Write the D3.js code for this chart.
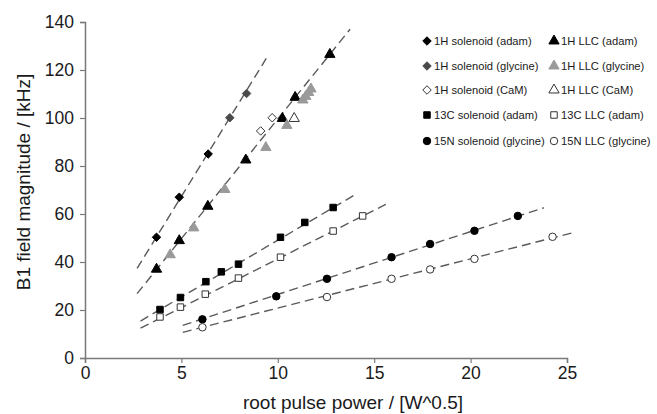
<!DOCTYPE html>
<html>
<head>
<meta charset="utf-8">
<script src="https://cdn.jsdelivr.net/npm/d3@7"></script>
<style>
  html, body { margin: 0; padding: 0; background: #fff; }
  svg { display: block; font-family: "Liberation Sans", Arial, sans-serif; }
</style>
</head>
<body>
<svg id="chart" width="657" height="414"></svg>
<script>
// ---- data: [root pulse power, B1 field magnitude] ----
const h1SolenoidAdam    = [[3.71, 50.3], [4.89, 67.0], [6.39, 85.0]];
const h1SolenoidGlycine = [[7.51, 100.1], [8.38, 110.2]];
const h1SolenoidCaM     = [[9.11, 94.6], [9.71, 100.1]];
const h1LlcAdam         = [[3.71, 37.0], [4.89, 48.9], [6.37, 63.2], [8.34, 82.5], [10.24, 99.8], [10.9, 108.6], [12.7, 126.5]];
const h1LlcGlycine      = [[4.42, 43.0], [5.64, 54.2], [7.25, 70.2], [9.38, 87.7], [10.47, 96.9], [11.3, 107.5], [11.45, 109.0], [11.6, 110.6], [11.72, 112.1]];
const h1LlcCaM          = [[10.85, 99.8]];
const c13SolenoidAdam   = [[3.89, 20.2], [4.95, 25.2], [6.27, 31.8], [7.07, 35.9], [7.96, 39.1], [10.14, 50.3], [11.4, 56.5], [12.87, 62.7]];
const c13LlcAdam        = [[3.89, 17.1], [4.95, 21.2], [6.24, 26.6], [7.96, 33.3], [10.14, 42.0], [12.87, 52.9], [14.4, 59.2]];
const n15SolenoidGly    = [[6.09, 16.1], [9.92, 25.7], [12.55, 33.0], [15.9, 42.0], [17.9, 47.5], [20.2, 53.0], [22.45, 59.2]];
const n15LlcGly         = [[6.09, 12.8], [12.55, 25.4], [15.9, 33.0], [17.9, 36.9], [20.2, 41.3], [24.25, 50.5]];

// dashed linear fits, given by their two end points
const fitLines = [
  [[2.7, 37.3], [9.4, 124.8]],
  [[2.7, 26.8], [13.75, 137.0]],
  [[2.88, 15.4], [14.0, 68.0]],
  [[2.88, 12.4], [15.6, 64.0]],
  [[5.07, 13.6], [23.8, 62.6]],
  [[5.07, 10.7], [25.3, 52.2]]
];

const xTicks = [0, 5, 10, 15, 20, 25];
const yTicks = [0, 20, 40, 60, 80, 100, 120, 140];

// series table: data, symbol, fill, stroke, legend label, legend column/row
const series = [
  { data: h1SolenoidAdam,    sym: "diamond",  fill: "#000",    stroke: "#000",    label: "1H solenoid (adam)",       col: 0, row: 0 },
  { data: h1SolenoidGlycine, sym: "diamond",  fill: "#4a4a4a", stroke: "#4a4a4a", label: "1H solenoid (glycine)",    col: 0, row: 1 },
  { data: h1SolenoidCaM,     sym: "diamond",  fill: "#fff",    stroke: "#333",    label: "1H solenoid (CaM)",        col: 0, row: 2 },
  { data: c13SolenoidAdam,   sym: "square",   fill: "#000",    stroke: "#000",    label: "13C solenoid (adam)",      col: 0, row: 3 },
  { data: n15SolenoidGly,    sym: "circle",   fill: "#000",    stroke: "#000",    label: "15N solenoid (glycine)",   col: 0, row: 4 },
  { data: h1LlcAdam,         sym: "triangle", fill: "#000",    stroke: "#000",    label: "1H LLC (adam)",            col: 1, row: 0 },
  { data: h1LlcGlycine,      sym: "triangle", fill: "#9a9a9a", stroke: "#9a9a9a", label: "1H LLC (glycine)",         col: 1, row: 1 },
  { data: h1LlcCaM,          sym: "triangle", fill: "#fff",    stroke: "#333",    label: "1H LLC (CaM)",             col: 1, row: 2 },
  { data: c13LlcAdam,        sym: "square",   fill: "#fff",    stroke: "#333",    label: "13C LLC (adam)",           col: 1, row: 3 },
  { data: n15LlcGly,         sym: "circle",   fill: "#fff",    stroke: "#333",    label: "15N LLC (glycine)",        col: 1, row: 4 }
];

const svg = d3.select("#chart");
const x = d3.scaleLinear().domain([0, 25]).range([85, 567]);
const y = d3.scaleLinear().domain([0, 140]).range([358, 22]);

const symbolTypes = {
  diamond:  { type: d3.symbolDiamond2, size: 46 },
  square:   { type: d3.symbolSquare,   size: 42 },
  circle:   { type: d3.symbolCircle,   size: 44 },
  triangle: { type: d3.symbolTriangle, size: 46 }
};
const symbolPath = s => d3.symbol().type(symbolTypes[s].type).size(symbolTypes[s].size)();

// axes
const axisColor = "#7a7a7a";
const gx = svg.append("g").attr("transform", `translate(0,${y(0)})`)
  .call(d3.axisBottom(x).tickValues(xTicks).tickFormat(d3.format("d")).tickSize(5).tickPadding(4));
const gy = svg.append("g").attr("transform", `translate(${x(0)},0)`)
  .call(d3.axisLeft(y).tickValues(yTicks).tickFormat(d3.format("d")).tickSize(5).tickPadding(6));
[gx, gy].forEach(g => {
  g.select(".domain").attr("stroke", axisColor).attr("stroke-width", 1.5);
  g.selectAll(".tick line").attr("stroke", axisColor).attr("stroke-width", 1.2);
  g.selectAll(".tick text").attr("fill", "#1a1a1a").style("font-size", "17.5px")
    .style("font-family", "'Liberation Sans', Arial, sans-serif");
});

// axis titles
svg.append("text")
  .attr("x", 353).attr("y", 409)
  .attr("text-anchor", "middle")
  .attr("fill", "#1a1a1a")
  .style("font-size", "19px")
  .text("root pulse power / [W^0.5]");
svg.append("text")
  .attr("transform", `translate(30,182) rotate(-90)`)
  .attr("text-anchor", "middle")
  .attr("fill", "#1a1a1a")
  .style("font-size", "19px")
  .text("B1 field magnitude / [kHz]");

// fit lines
const line = d3.line().x(d => x(d[0])).y(d => y(d[1]));
svg.append("g").selectAll("path").data(fitLines).join("path")
  .attr("d", line)
  .attr("fill", "none")
  .attr("stroke", "#5a5a5a")
  .attr("stroke-width", 1.4)
  .attr("stroke-dasharray", "9,5");

// markers
series.forEach(s => {
  svg.append("g").selectAll("path").data(s.data).join("path")
    .attr("d", symbolPath(s.sym))
    .attr("transform", d => `translate(${x(d[0])},${y(d[1])})`)
    .attr("fill", s.fill)
    .attr("stroke", s.stroke)
    .attr("stroke-width", 1);
});

// legend
const legColX = [427, 554];
const legRowY = [41, 66, 90, 115, 141];
const leg = svg.append("g");
series.forEach(s => {
  const lx = legColX[s.col], ly = legRowY[s.row];
  leg.append("path")
    .attr("d", symbolPath(s.sym))
    .attr("transform", `translate(${lx},${ly})`)
    .attr("fill", s.fill)
    .attr("stroke", s.stroke)
    .attr("stroke-width", 1);
  leg.append("text")
    .attr("x", lx + 7).attr("y", ly + 4)
    .attr("fill", "#1a1a1a")
    .style("font-size", "11.2px")
    .text(s.label);
});
</script>
</body>
</html>
